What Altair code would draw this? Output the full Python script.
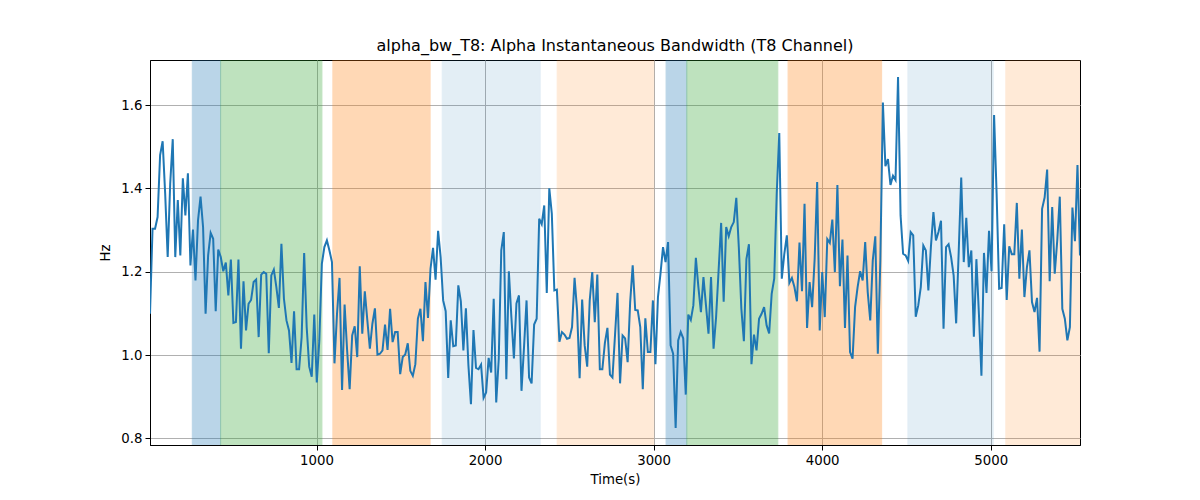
import altair as alt
import numpy as np
import pandas as pd

# ---- data ----
t_start = 12
t_end = 5530

bw_part1 = [1.099, 1.303, 1.303, 1.331, 1.480, 1.513, 1.388, 1.235, 1.412, 1.518,
            1.235, 1.372, 1.239, 1.424, 1.335, 1.436, 1.215, 1.301, 1.179, 1.323,
            1.380, 1.307, 1.099, 1.239, 1.293, 1.279, 1.105, 1.253, 1.235, 1.201,
            1.222, 1.143, 1.229, 1.077, 1.079, 1.229, 1.015, 1.177, 1.059, 1.123,
            1.132, 1.175, 1.181, 1.043, 1.193, 1.199, 1.195, 1.004, 1.191, 1.205,
            1.163, 1.113, 1.267, 1.135, 1.083, 1.059, 0.981, 1.105, 0.966, 0.966,
            1.043, 1.245, 1.067, 0.972, 0.948, 1.097, 0.934, 1.035, 1.219, 1.259,
            1.275, 1.251, 1.223, 0.980, 1.099, 1.185, 0.916, 1.121, 1.011, 0.918,
            1.047, 1.069, 0.995, 1.213, 1.051, 1.153, 1.083, 1.015, 1.075, 1.112,
            1.001, 1.003, 1.011, 1.073, 1.012, 1.111]
bw_part2 = [1.031, 1.055, 1.055, 0.954, 0.995, 1.001, 1.028, 0.962, 0.950, 0.978,
            1.087, 1.111, 1.033, 1.175, 1.089, 1.207, 1.257, 1.181, 1.298, 1.235,
            1.131, 1.105, 0.945, 1.083, 1.021, 1.023, 1.167, 1.129, 1.011, 1.112,
            0.975, 0.882, 1.060, 0.969, 0.966, 0.977, 0.897, 0.910, 0.993, 0.958,
            1.135, 0.886, 0.991, 1.251, 1.295, 0.942, 1.201, 1.091, 0.992, 1.124,
            1.143, 0.914, 1.019, 1.131, 0.946, 0.932, 1.073, 1.087, 1.327, 1.314,
            1.359, 1.149, 1.400, 1.339, 1.155, 1.157, 1.032, 1.055, 1.049, 1.039,
            1.041, 1.067, 1.185, 1.107, 0.944, 1.133, 1.023, 0.972, 1.131, 1.199,
            1.079, 1.193, 0.966, 0.966, 1.029, 1.065, 0.953, 0.946, 1.047, 1.149,
            0.932]
bw_part3 = [1.047, 1.040, 0.983, 1.127, 1.215, 1.108, 1.107, 1.067, 0.918, 1.088,
            1.007, 1.007, 1.131, 0.978, 1.139, 1.195, 1.259, 1.223, 1.271, 1.023,
            1.003, 0.825, 1.035, 1.055, 1.040, 0.905, 1.097, 1.084, 1.119, 1.233,
            1.163, 1.103, 1.187, 1.119, 1.051, 1.187, 1.015, 1.091, 1.203, 1.317,
            1.128, 1.307, 1.285, 1.307, 1.319, 1.377, 1.258, 1.111, 1.033, 1.230,
            1.266, 0.978, 1.049, 1.011, 1.087, 1.099, 1.115, 1.071, 1.052, 1.147,
            1.183, 1.388, 1.533, 1.183, 1.243, 1.287, 1.173, 1.185, 1.163, 1.129,
            1.270, 1.153, 1.363, 1.065, 1.175, 1.115, 1.230, 1.415, 1.059, 1.199,
            1.091, 1.278, 1.269, 1.325, 1.199, 1.408, 1.165, 1.277, 1.065, 1.239,
            1.007]
bw_part4 = [0.991, 1.115, 1.163, 1.201, 1.179, 1.271, 1.151, 1.083, 1.227, 1.285,
            1.003, 1.227, 1.606, 1.453, 1.470, 1.408, 1.430, 1.420, 1.667, 1.335,
            1.243, 1.239, 1.226, 1.295, 1.287, 1.092, 1.119, 1.163, 1.263, 1.251,
            1.155, 1.259, 1.343, 1.275, 1.295, 1.322, 1.063, 1.259, 1.266, 1.235,
            1.191, 1.076, 1.247, 1.426, 1.223, 1.329, 1.211, 1.251, 1.044, 1.230,
            1.099, 0.950, 1.245, 1.149, 1.298, 1.201, 1.576, 1.388, 1.159, 1.161,
            1.314, 1.132, 1.261, 1.242, 1.242, 1.365, 1.183, 1.301, 1.139, 1.211,
            1.251, 1.127, 1.103, 1.137, 1.008, 1.351, 1.378, 1.445, 1.177, 1.355,
            1.195, 1.275, 1.380, 1.111, 1.087, 1.035, 1.067, 1.354, 1.273, 1.456,
            1.239]

span_start = [263, 431, 1097, 1746, 2428, 3074, 3197, 3798, 4509, 5090]
span_end = [431, 1032, 1674, 2327, 3001, 3197, 3737, 4353, 5015, 5530]
span_color = ["#1f77b4", "#2ca02c", "#ff7f0e", "#1f77b4", "#ff7f0e",
              "#1f77b4", "#2ca02c", "#ff7f0e", "#1f77b4", "#ff7f0e"]
span_alpha = [0.3, 0.3, 0.3, 0.12, 0.16, 0.3, 0.3, 0.3, 0.12, 0.16]

x_ticks = [1000, 2000, 3000, 4000, 5000]
y_ticks = [0.8, 1.0, 1.2, 1.4, 1.6]
x_domain = [t_start, t_end]
y_domain = [0.784, 1.708]

title_text = "alpha_bw_T8: Alpha Instantaneous Bandwidth (T8 Channel)"

# ---- tables ----
values = bw_part1 + bw_part2 + bw_part3 + bw_part4
line_df = pd.DataFrame({"t": np.linspace(t_start, t_end, len(values)), "v": values})
span_df = pd.DataFrame({"s": span_start, "e": span_end, "c": span_color, "a": span_alpha})

FONT = "DejaVu Sans"

xscale = alt.Scale(domain=x_domain, nice=False, zero=False)
yscale = alt.Scale(domain=y_domain, nice=False, zero=False)

xaxis = alt.Axis(values=x_ticks, title="Time(s)", format="d", grid=True)
yaxis = alt.Axis(values=y_ticks, title="Hz", format=".1f", grid=True)

spans = alt.Chart(span_df).mark_rect(clip=True, strokeWidth=1).encode(
    x=alt.X("s:Q", scale=xscale, axis=xaxis),
    x2="e:Q",
    color=alt.Color("c:N", scale=None),
    stroke=alt.Stroke("c:N", scale=None),
    opacity=alt.Opacity("a:Q", scale=None),
)

line = alt.Chart(line_df).mark_line(color="#1f77b4", strokeWidth=2, clip=True).encode(
    x=alt.X("t:Q", scale=xscale, axis=xaxis),
    y=alt.Y("v:Q", scale=yscale, axis=yaxis),
)

chart = alt.layer(spans, line).properties(
    width=930,
    height=385,
    title=alt.TitleParams(title_text, font=FONT, fontSize=16, fontWeight="normal",
                          color="black", anchor="middle", offset=6),
    autosize=alt.AutoSizeParams(type="none"),
    padding={"left": 142, "top": 52, "right": 112, "bottom": 52},
).configure_view(
    stroke="black", strokeWidth=1
).configure_axis(
    labelFont=FONT, labelFontSize=13.3, labelColor="black",
    titleFont=FONT, titleFontSize=13.3, titleColor="black", titleFontWeight="normal",
    gridColor="#b0b0b0", gridWidth=1, gridOpacity=1,
    tickColor="black", tickSize=5, tickWidth=1,
    domainColor="black", domainWidth=1,
).configure_axisX(
    labelPadding=3, titlePadding=6
).configure_axisY(
    labelPadding=3, titlePadding=8
)

chart.save("out.html", embed_options={"renderer": "svg", "actions": False})
